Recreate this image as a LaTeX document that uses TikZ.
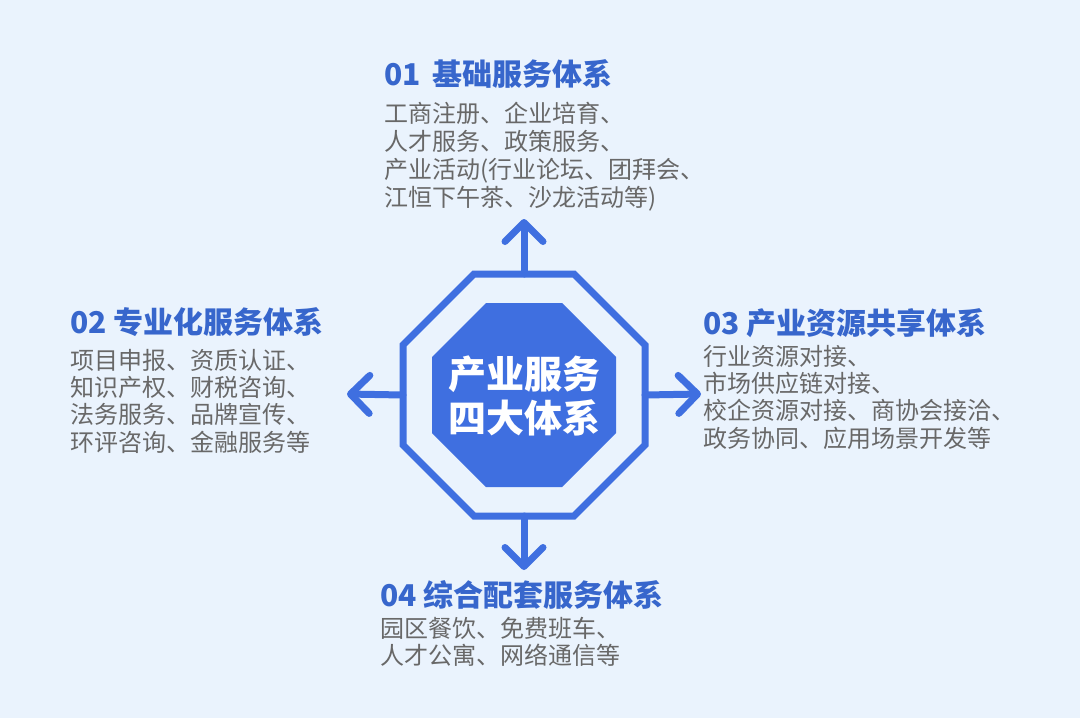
\documentclass[tikz,border=0pt]{standalone}
\usepackage{fontspec}
\setmainfont{Noto Sans CJK SC}
\usetikzlibrary{arrows.meta}
\definecolor{bg}{HTML}{EAF3FD}
\definecolor{octblue}{HTML}{3F6FE0}
\definecolor{titleblue}{HTML}{3766CC}
\definecolor{bodygray}{HTML}{686868}
\tikzset{
  octline/.style={draw=octblue,line width=7pt,line join=miter},
  octfill/.style={fill=octblue},
  outarrow/.style={draw=octblue,line width=7pt,line cap=round,-{Straight Barb[length=19pt,width=38pt,round]}},
  titletext/.style={anchor=west,inner sep=0pt,text=titleblue,font=\bfseries\fontsize{30pt}{32pt}\selectfont},
  bodytext/.style={anchor=base west,inner sep=0pt,align=left,text=bodygray,font=\fontsize{24pt}{27.5pt}\selectfont},
  centertext/.style={inner sep=0pt,align=center,text=white,font=\bfseries\fontsize{38pt}{44pt}\selectfont}
}
\begin{document}
\begin{tikzpicture}[x=1pt,y=-1pt]
\fill[bg] (0,0) rectangle (1080,718);
\useasboundingbox (0,0) rectangle (1080,718);
% edge points of the outer octagon
\coordinate (et) at (524,274);
\coordinate (eb) at (524,516);
\coordinate (el) at (403,395);
\coordinate (er) at (645,395);
% arrow tips
\coordinate (tt) at (524,219);
\coordinate (tb) at (524,570);
\coordinate (tl) at (347,394);
\coordinate (tr) at (701,394);
\draw[outarrow] (et) -- (tt);
\draw[outarrow] (eb) -- (tb);
\draw[outarrow] (el) -- (tl);
\draw[outarrow] (er) -- (tr);
% outer octagon
\draw[octline] (474,274) -- (574,274) -- (645,345) -- (645,445) -- (574,516) -- (474,516) -- (403,445) -- (403,345) -- cycle;
% inner octagon
\fill[octfill] (486,303) -- (562,303) -- (616,357) -- (616,433) -- (562,487) -- (486,487) -- (432,433) -- (432,357) -- cycle;
\node[centertext] (center) at (524,396) {产业服务\\四大体系};
% block 1 (anchored at baseline of last line)
\node[titletext] (t1) at (384,73.5) {01\hspace{0.4em}基础服务体系};
\node[bodytext,font=\fontsize{24pt}{27.7pt}\selectfont] (b1) at (384,206) {工商注册、企业培育、\\人才服务、政策服务、\\产业活动(行业论坛、团拜会、\\江恒下午茶、沙龙活动等)};
% block 2
\node[titletext] (t2) at (70,322) {02 专业化服务体系};
\node[bodytext,font=\fontsize{24pt}{27.3pt}\selectfont] (b2) at (70,451) {项目申报、资质认证、\\知识产权、财税咨询、\\法务服务、品牌宣传、\\环评咨询、金融服务等};
% block 3
\node[titletext] (t3) at (703,323) {03 产业资源共享体系};
\node[bodytext,font=\fontsize{24pt}{27.1pt}\selectfont] (b3) at (703,447) {行业资源对接、\\市场供应链对接、\\校企资源对接、商协会接洽、\\政务协同、应用场景开发等};
% block 4
\node[titletext] (t4) at (380,595) {04 综合配套服务体系};
\node[bodytext,font=\fontsize{24pt}{27pt}\selectfont] (b4) at (380,664) {园区餐饮、免费班车、\\人才公寓、网络通信等};
\end{tikzpicture}
\end{document}
